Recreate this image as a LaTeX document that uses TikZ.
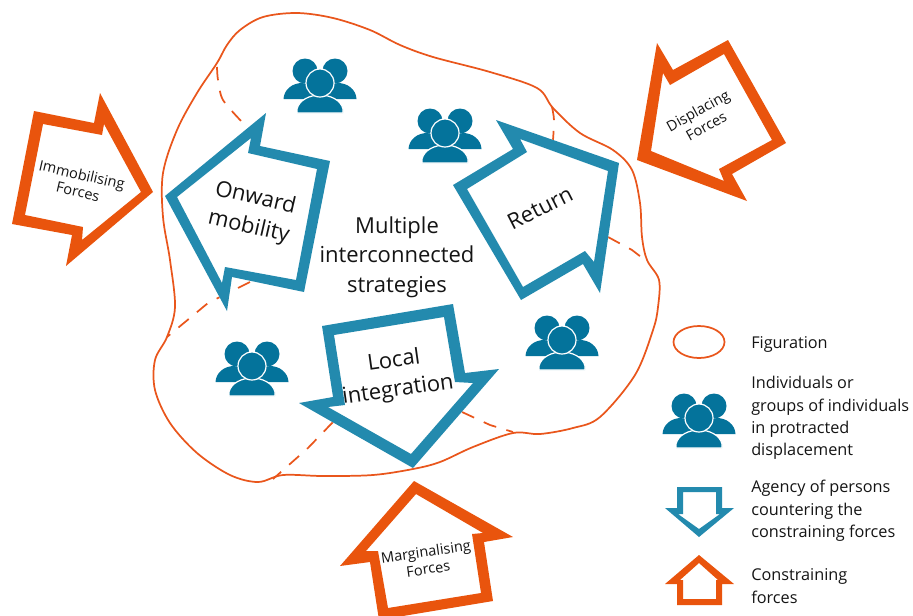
\documentclass[tikz,border=0pt]{standalone}
\usepackage{fontspec}
\setmainfont{Open Sans}
\definecolor{forcecol}{HTML}{E9540D}
\definecolor{agencycol}{HTML}{238AAE}
\definecolor{peoplecol}{HTML}{04739B}
\definecolor{figcol}{HTML}{E9561C}
\definecolor{txt}{HTML}{141414}
\newcommand{\blockarrow}[3]{%
  \fill[white] #2 -- cycle;
  \fill[#1,even odd rule] #2 -- cycle #3 -- cycle;}
\tikzset{
  figline/.style={draw=figcol,line width=1.3pt,line join=round},
  splitline/.style={draw=figcol,line width=1.3pt,dash pattern=on 10pt off 8pt},
  biglabel/.style={text=txt,align=center,font=\fontsize{16.5}{22}\selectfont,inner sep=0pt},
  forcelabel/.style={text=txt,align=center,font=\fontsize{10.9}{13}\selectfont,inner sep=0pt},
  legendlabel/.style={text=txt,align=left,anchor=west,font=\fontsize{12.2}{16.8}\selectfont,inner sep=0pt},
  pics/people/.style={code={
    \fill[peoplecol] (-15,-15) circle (12.5);
    \fill[peoplecol] (15,-15) circle (12.5);
    \fill[peoplecol] (-36.5,13) .. controls (-36,3) and (-27,-3) .. (-18,-3) -- (0,0) -- (-6,13) -- cycle;
    \fill[peoplecol] (36.5,13) .. controls (36,3) and (27,-3) .. (18,-3) -- (0,0) -- (6,13) -- cycle;
    \fill[peoplecol,draw=white,line width=0.9pt] (-23,27) -- (-23,23) .. controls (-21,14) and (-10,9) .. (0,9) .. controls (10,9) and (21,14) .. (23,23) -- (23,27) -- cycle;
    \fill[peoplecol,draw=white,line width=0.9pt] (0,-3) circle (14);
  }}
}
\begin{document}
\begin{tikzpicture}[x=0.75pt,y=-0.75pt]
\useasboundingbox (0,0) rectangle (913,615);
\clip (0,0) rectangle (913,615);
% figuration outline
\draw[figline] plot[smooth cycle,tension=0.55] coordinates {
 (217,63) (227,45) (240,30) (263,17) (297,13) (333,18) (370,30) (400,45) (433,57) (490,72) (537,88) (553,108)
 (580,133) (613,150) (632,170) (640,203) (642,237) (647,260) (659,280) (658,307) (653,330) (635,375) (600,417)
 (573,428) (540,434) (513,433) (473,447) (440,462) (413,469) (373,475) (323,476) (283,475) (258,482) (230,475)
 (197,453) (170,423) (155,390) (155,360) (167,337) (175,307) (170,260) (163,217) (163,173) (177,130) (197,93)};
% dashed splits
\draw[splitline] plot[smooth,tension=0.5] coordinates {(217,67) (218,80) (223,100) (243,123)};
\draw[splitline] (250,282) -- (208,303) -- (167,337);
\draw[splitline] (333,422) -- (308,448) -- (273,479);
\draw[splitline] (462,412) -- (490,425) -- (513,432);
\draw[splitline] (608,237) -- (632,250) -- (645,260);
\draw[splitline] plot[smooth,tension=0.5] coordinates {(552,107) (554,120) (553,140)};
% people
\pic at (320,86) {people};
\pic at (445,136) {people};
\pic at (252,369) {people};
\pic at (562,343) {people};
\pic at (699,421) {people};
% constraining forces
\blockarrow{forcecol}{(34,111) -- (94,123) -- (100,93) -- (153,192) -- (66,266) -- (72,235) -- (12,224)}
 {(43,124) -- (102,135) -- (104,124) -- (141,192) -- (82,240) -- (83,227) -- (25,215)}
\blockarrow{forcecol}{(657,43) -- (673,70) -- (728,40) -- (786,143) -- (732,174) -- (747,201) -- (637,160)}
 {(663,73) -- (670,85) -- (724,54) -- (772,140) -- (719,169) -- (724,181) -- (651,151)}
\blockarrow{forcecol}{(414,481) -- (513,537) -- (484,542) -- (493,601) -- (379,620) -- (370,562) -- (340,566)}
 {(416,494) -- (483,533) -- (472,534) -- (481,593) -- (388,608) -- (378,551) -- (366,551)}
% agency arrows
\blockarrow{agencycol}{(165,196) -- (266,113) -- (260,146) -- (330,161) -- (304,292) -- (232,277) -- (227,311)}
 {(177,197) -- (251,138) -- (248,153) -- (317,169) -- (296,280) -- (225,267) -- (222,283)}
\blockarrow{agencycol}{(453,185) -- (513,149) -- (496,120) -- (619,163) -- (600,293) -- (583,264) -- (521,300)}
 {(467,189) -- (527,152) -- (520,139) -- (608,171) -- (594,262) -- (585,251) -- (523,287)}
\blockarrow{agencycol}{(322,326) -- (453,304) -- (465,373) -- (499,369) -- (413,468) -- (299,403) -- (333,397)}
 {(334,335) -- (444,317) -- (455,382) -- (473,383) -- (411,454) -- (328,407) -- (345,405)}
% labels
\node[biglabel,rotate=-13] (onward) at (252,213) {Onward\\mobility};
\node[biglabel] (multi) at (397,257) {Multiple\\interconnected\\strategies};
\node[biglabel,rotate=27] (ret) at (540,208) {Return};
\node[biglabel,rotate=8] (local) at (396,376) {Local\\integration};
\node[forcelabel,rotate=-13] (immob) at (80,183) {Immobilising\\Forces};
\node[forcelabel,rotate=29] (displ) at (702,118) {Displacing\\Forces};
\node[forcelabel,rotate=8] (margin) at (427,560) {Marginalising\\Forces};
% legend
\draw[draw=figcol,line width=1.3pt] (699,342) ellipse (25.5 and 16);
\blockarrow{agencycol}{(677,487) -- (722,487) -- (722,508) -- (734,508) -- (699,537) -- (665,508) -- (677,508)}
 {(683,492) -- (716,492) -- (716,514) -- (720,514) -- (699,529) -- (678,514) -- (683,514)}
\blockarrow{forcecol}{(699,555) -- (734,584) -- (722,584) -- (722,605) -- (677,605) -- (677,584) -- (665,584)}
 {(699,563) -- (718,580) -- (716,580) -- (716,599) -- (683,599) -- (683,580) -- (680,580)}
\node[legendlabel] (l1) at (751,344) {Figuration};
\node[legendlabel] (l2) at (751,418) {Individuals or\\groups of individuals\\in protracted\\displacement};
\node[legendlabel] (l3) at (751,511) {Agency of persons\\countering the\\constraining forces};
\node[legendlabel] (l4) at (751,586) {Constraining\\forces};
\end{tikzpicture}
\end{document}
